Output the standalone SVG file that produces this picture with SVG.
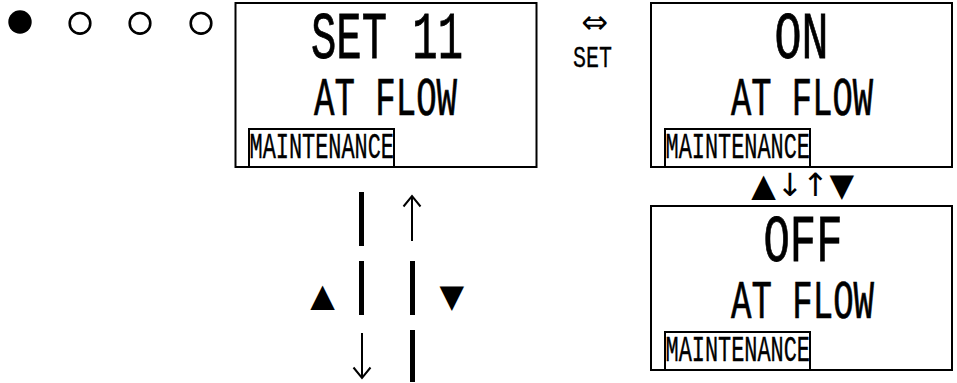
<svg xmlns="http://www.w3.org/2000/svg" width="957" height="383" viewBox="0 0 957 383">
<style>
.box{fill:#fff;stroke:#000;stroke-width:2}
.tag{fill:none;stroke:#000;stroke-width:2}
.t{font-family:"Liberation Mono",monospace;fill:#000;stroke:#000}
.big{font-size:67px;stroke-width:0.8}
.mid{font-size:54px;stroke-width:0.7}
.small{font-size:36px;stroke-width:0.4}
.lbl{font-size:30px;stroke-width:0.3}
.sym{font-family:"DejaVu Sans",sans-serif;fill:#000}
.bar{stroke:#000;stroke-width:5}
.arr{stroke:#000;stroke-width:2;fill:none}
.led{fill:none;stroke:#000;stroke-width:2.6}
</style>
<g id="indicators">
<circle cx="20" cy="22" r="11.7" fill="#000"/>
<circle class="led" cx="80" cy="23.3" r="10.3"/>
<circle class="led" cx="140" cy="23.3" r="10.3"/>
<circle class="led" cx="201" cy="23.3" r="10.3"/>
</g>
<g id="node-set11">
<rect class="box" x="235.5" y="3" width="301" height="164"/>
<text class="t big" x="311" y="58" textLength="152" lengthAdjust="spacingAndGlyphs">SET 11</text>
<text class="t mid" x="314" y="115" textLength="143" lengthAdjust="spacingAndGlyphs">AT FLOW</text>
<rect class="tag" x="249" y="129" width="145" height="38"/>
<text class="t small" x="249.5" y="158" textLength="144.5" lengthAdjust="spacingAndGlyphs">MAINTENANCE</text>
</g>
<g id="node-on">
<rect class="box" x="651" y="3" width="301" height="164"/>
<text class="t big" x="774.5" y="58" textLength="54" lengthAdjust="spacingAndGlyphs">ON</text>
<text class="t mid" x="731" y="115" textLength="142" lengthAdjust="spacingAndGlyphs">AT FLOW</text>
<rect class="tag" x="665" y="129" width="145" height="38"/>
<text class="t small" x="665.5" y="158" textLength="144.5" lengthAdjust="spacingAndGlyphs">MAINTENANCE</text>
</g>
<g id="node-off">
<rect class="box" x="651" y="206" width="301" height="164"/>
<text class="t big" x="763.5" y="261" textLength="79" lengthAdjust="spacingAndGlyphs">OFF</text>
<text class="t mid" x="731" y="318" textLength="143" lengthAdjust="spacingAndGlyphs">AT FLOW</text>
<rect class="tag" x="665" y="332" width="145" height="38"/>
<text class="t small" x="665.5" y="361" textLength="144.5" lengthAdjust="spacingAndGlyphs">MAINTENANCE</text>
</g>
<g id="connectors">
<line class="bar" x1="361.5" y1="192" x2="361.5" y2="246"/>
<line class="bar" x1="361.5" y1="261" x2="361.5" y2="315"/>
<line class="bar" x1="412.5" y1="261" x2="412.5" y2="315"/>
<line class="bar" x1="412.5" y1="330" x2="412.5" y2="382"/>
<path class="arr" d="M412 241V196M403.5 206.5L412 196L420.5 206.5"/>
<path class="arr" d="M362 333V378M353.5 367.5L362 378L370.5 367.5"/>
</g>
<g id="labels">
<text class="sym" x="595" y="33" font-size="32" text-anchor="middle">⇔</text>
<text class="t lbl" x="573" y="67" textLength="39" lengthAdjust="spacingAndGlyphs">SET</text>
<text class="sym" x="763.5 790 815.3 841.7" y="196" font-size="32" text-anchor="middle">▲↓↑▼</text>
<text class="sym" x="322.5" y="306" font-size="32" text-anchor="middle">▲</text>
<text class="sym" x="451.7" y="307" font-size="32" text-anchor="middle">▼</text>
</g>
</svg>
